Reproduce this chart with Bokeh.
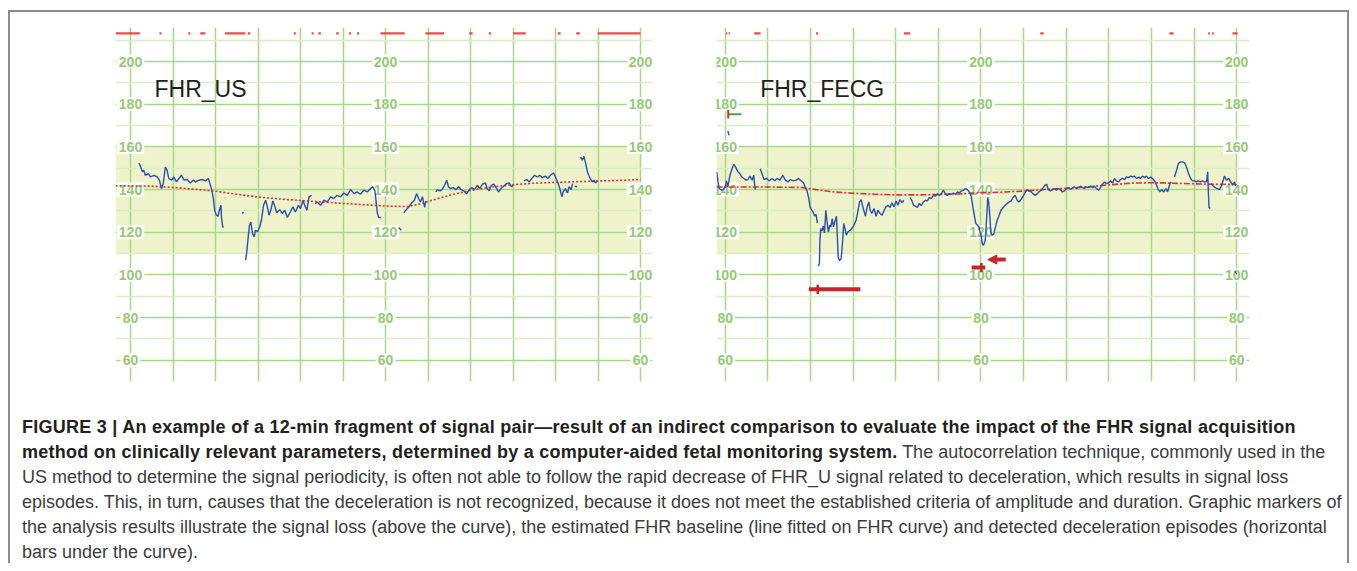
import math
from bokeh.plotting import figure
from bokeh.models import FixedTicker, Div, Arrow, NormalHead, Range1d
from bokeh.layouts import row, column
from bokeh.embed import file_html
from bokeh.resources import INLINE
from bokeh.core.properties import value

nan = float("nan")

# ---------------- data ----------------
fhr_ticks = [200, 180, 160, 140, 120, 100, 80, 60]
fhr_minor = [210, 190, 170, 150, 130, 110, 90, 70, 50]
minute_ticks = list(range(0, 13))
label_minutes = [0, 6, 12]
normal_low, normal_high = 110, 160

# FHR_US (left panel): time [min], FHR [bpm]; nan = signal gap
us_time = [0.20, 0.24, 0.28, 0.31, 0.35, 0.42, 0.47, 0.55, 0.63, 0.68, 0.73, 0.77, 0.82, 0.86, 0.90, 0.97, 1.02, 1.08, 1.14, 1.20,
           1.26, 1.33, 1.41, 1.47, 1.53, 1.61, 1.69, 1.77, 1.83, 1.87, 1.91, 1.95, 1.98, 2.02, 2.06, 2.09, 2.13, 2.14, 2.17, 2.19, nan,
           2.63, 2.66, nan,
           2.71, 2.74, 2.77, 2.80, 2.83, 2.87, 2.91, 2.94, 2.99, 3.04, 3.08, 3.13, 3.18, 3.22, 3.26, 3.30, 3.35, 3.40, 3.44, 3.51,
           3.57, 3.63, 3.69, 3.76, 3.82, 3.88, 3.95, 4.00, 4.06, 4.10, 4.15, 4.20, 4.26, nan,
           4.35, 4.39, 4.47, 4.55, 4.63, 4.71, 4.78, 4.86, 4.94, 5.02, 5.10, 5.18, 5.26, 5.33, 5.41, 5.49, 5.57, 5.65, 5.70, 5.75,
           5.78, 5.81, 5.84, 5.89, nan,
           6.31, 6.37, nan,
           6.43, 6.49, 6.56, 6.62, 6.68, 6.73, 6.78, 6.82, 6.87, 6.92, 6.95, nan,
           7.18, 7.22, 7.28, 7.33, 7.39, 7.44, 7.48, 7.53, 7.59, 7.66, 7.72, 7.78, 7.84, 7.91, 7.97, 8.03, 8.09, 8.16, 8.22, 8.28,
           8.35, 8.39, 8.44, 8.49, 8.55, 8.60, 8.66, 8.72, 8.78, 8.85, 8.91, 8.97, 9.00, nan,
           9.26, 9.32, 9.38, 9.44, 9.51, 9.57, 9.63, 9.69, 9.76, 9.82, 9.88, 9.95, 10.00, 10.06, 10.10, 10.15, 10.18, 10.23, 10.28, 10.32,
           10.37, 10.40, nan,
           10.45, 10.51, nan,
           10.59, 10.63, 10.67, 10.71, 10.75, 10.78, 10.82, 10.86, 10.90, 10.94, 10.98]
us_fhr = [152.5, 150.6, 148.3, 149.1, 146.7, 147.5, 145.9, 146.7, 145.9, 144.4, 140.5, 142.8, 150.6, 149.1, 145.2, 144.4, 145.9, 143.6, 145.2, 146.7,
          144.4, 144.7, 143.1, 144.4, 143.6, 144.4, 144.7, 144.1, 145.2, 142.8, 140.0, 135.8, 130.3, 128.0, 127.5, 130.3, 132.6, 127.2, 122.5, 122.2, nan,
          128.8, 129.5, nan,
          106.9, 111.6, 117.8, 123.3, 124.8, 119.4, 117.8, 120.9, 120.2, 122.5, 125.6, 132.6, 135.0, 131.9, 128.0, 130.3, 134.7, 131.9, 129.1, 130.6,
          128.8, 130.3, 126.9, 129.5, 131.9, 129.5, 132.6, 131.1, 135.0, 132.6, 130.3, 136.6, 137.3, nan,
          133.4, 134.2, 132.6, 135.0, 134.2, 136.6, 135.8, 137.3, 136.6, 138.4, 137.3, 140.0, 138.1, 138.9, 137.8, 139.7, 138.9, 140.5, 141.3, 139.4,
          134.2, 128.8, 126.9, 126.9, nan,
          122.2, 120.9, nan,
          129.1, 130.6, 132.2, 133.8, 135.0, 138.1, 135.8, 134.2, 136.6, 131.6, 134.7, nan,
          138.9, 140.0, 139.4, 140.0, 142.0, 144.4, 141.3, 140.5, 140.9, 140.0, 141.3, 140.0, 139.4, 138.1, 140.0, 140.9, 140.0, 142.0, 140.5, 142.5,
          143.1, 140.5, 139.4, 142.0, 142.5, 140.9, 138.9, 140.5, 141.6, 142.8, 143.1, 141.3, 142.0, nan,
          144.1, 144.7, 143.6, 145.2, 146.7, 145.9, 146.7, 145.6, 146.3, 145.2, 146.7, 147.8, 145.9, 143.1, 140.5, 136.6, 138.9, 140.5, 138.4, 141.3,
          140.0, 142.8, nan,
          141.6, 141.3, nan,
          155.3, 153.8, 155.6, 152.2, 148.3, 146.7, 145.2, 143.6, 144.4, 143.1, 144.1]

us_base_time = [-0.35, 0.5, 1.0, 1.5, 2.0, 2.5, 3.0, 3.5, 4.0, 4.5, 5.0, 5.5, 6.0, 6.5, 6.8, 7.2, 7.6, 8.0, 8.5, 9.0, 9.5, 10.0, 10.5, 11.0, 11.5, 12.0]
us_base = [141.8, 141.6, 141.0, 140.2, 139.2, 137.8, 136.5, 135.6, 134.9, 134.2, 133.5, 132.9, 132.3, 132.0, 133.2, 135.6, 137.8, 139.6, 141.2, 142.3, 143.0, 143.4, 143.7, 144.0, 144.3, 144.7]

us_loss_start = [-0.35, 0.68, 1.36, 1.64, 2.22, 2.76, 3.84, 4.26, 4.42, 4.84, 5.14, 5.33, 5.88, 6.94, 7.97, 8.43, 9.00, 10.05, 10.49, 10.99]
us_loss_end = [0.22, 0.73, 1.41, 1.76, 2.70, 2.82, 3.89, 4.31, 4.48, 4.90, 5.19, 5.38, 6.45, 7.38, 8.05, 8.48, 9.30, 10.12, 10.57, 12.00]

# FHR_FECG (right panel)
fecg_time = [-0.20, -0.17, -0.14, -0.09, -0.04, 0.00, 0.03, 0.06, 0.11, 0.16, 0.20, 0.25, 0.30, 0.34, 0.39, 0.44, 0.49, 0.53, 0.58, 0.63,
             0.67, 0.69, 0.71, nan,
             0.82, 0.86, 0.91, 0.97, 1.03, 1.10, 1.16, 1.22, 1.28, 1.35, 1.41, 1.47, 1.53, 1.60, 1.66, 1.72, 1.78, 1.84, 1.88, 1.92,
             1.96, 1.99, 2.02, 2.06, 2.10, 2.13, 2.16, nan,
             2.18, 2.21, 2.22, 2.24, 2.27, 2.30, 2.33, 2.36, 2.39, 2.42, 2.45, 2.48, 2.51, 2.54, 2.57, 2.61, 2.63, 2.65, 2.68, 2.72,
             2.75, 2.78, 2.81, 2.84, 2.88, 2.93, 2.97, 3.02, 3.07, 3.11, 3.15, 3.19, 3.22, 3.25, 3.29, 3.33, 3.37, 3.40, 3.44, 3.49,
             3.54, 3.58, 3.63, 3.68, 3.73, 3.77, 3.82, 3.87, 3.91, 3.96, 4.01, 4.05, 4.10, 4.15, 4.19, nan,
             4.34, 4.38, 4.42, 4.46, 4.51, 4.55, 4.60, 4.65, 4.70, 4.74, 4.79, 4.84, 4.88, 4.93, 4.98, 5.02, 5.07, 5.12, 5.16, 5.21,
             5.26, 5.31, 5.35, 5.40, 5.45, 5.49, 5.54, 5.59, 5.63, 5.68, 5.73, 5.77, 5.81, 5.85, 5.88, 5.92, 5.96, 5.97, 6.00, 6.03,
             6.06, 6.10, 6.13, 6.16, 6.18, 6.21, 6.23, 6.26, 6.30, 6.34, 6.38, 6.42, 6.47, 6.52, 6.57, 6.61, 6.66, 6.71, 6.75, 6.80,
             6.85, 6.89, 6.94, 6.99, 7.03, 7.08, 7.13, 7.18, 7.22, 7.27, 7.32, 7.36, 7.41, 7.46, 7.50, 7.54, 7.58, 7.63, 7.68, 7.72,
             7.77, 7.82, 7.86, 7.91, 7.96, 8.01, 8.05, 8.10, 8.15, 8.19, 8.24, 8.29, 8.33, 8.38, 8.43, 8.47, 8.52, 8.57, 8.62, 8.66,
             8.71, 8.76, 8.80, 8.85, 8.90, 8.94, 8.99, 9.04, 9.09, 9.13, 9.18, 9.23, 9.27, 9.32, 9.37, 9.41, 9.46, 9.51, 9.55, 9.60,
             9.65, 9.70, 9.74, 9.79, 9.84, 9.88, 9.93, 9.98, 10.02, 10.07, 10.12, 10.16, 10.20, 10.24, 10.29, 10.34, 10.38, 10.42, 10.46, nan,
             10.54, 10.59, 10.63, 10.68, 10.73, 10.78, 10.82, 10.87, 10.92, 10.96, 11.01, 11.06, 11.10, 11.15, 11.20, 11.24, 11.29, 11.32, 11.33, 11.35,
             11.38, nan,
             11.40, 11.45, 11.50, 11.54, 11.59, 11.64, 11.68, 11.71, 11.76, 11.81, 11.86, 11.90, 11.95, 11.97, nan,
             11.96, 12.00, nan,
             0.06, 0.09]
fecg_fhr = [148.3, 143.6, 140.5, 139.7, 140.0, 141.6, 144.1, 141.3, 146.7, 149.8, 151.9, 150.3, 148.3, 147.5, 145.9, 145.2, 144.4, 144.7, 146.3, 144.4,
            146.7, 142.0, 140.0, nan,
            149.8, 147.5, 144.7, 145.2, 144.1, 145.2, 144.1, 145.2, 144.4, 146.7, 144.4, 143.6, 144.7, 144.1, 144.4, 145.2, 144.1, 143.1, 140.9, 139.4,
            135.8, 131.9, 130.6, 129.5, 127.5, 128.4, 124.4, nan,
            104.1, 105.3, 115.5, 121.7, 120.6, 122.8, 119.7, 130.3, 124.8, 120.2, 123.3, 122.5, 126.4, 122.5, 124.8, 127.5, 117.8, 108.4, 106.6, 107.7,
            114.7, 124.1, 121.7, 118.6, 120.2, 120.9, 121.7, 123.3, 125.6, 129.5, 134.2, 135.3, 132.6, 130.3, 127.5, 131.9, 134.2, 130.3, 128.8, 131.1,
            127.5, 130.3, 128.8, 128.0, 130.3, 131.9, 132.6, 131.6, 133.8, 131.9, 134.7, 132.6, 135.3, 133.8, 135.0, nan,
            136.3, 134.7, 132.6, 132.2, 131.6, 133.4, 132.6, 134.2, 135.0, 134.7, 136.3, 135.8, 137.3, 136.9, 138.1, 137.3, 138.1, 139.7, 138.1, 137.3,
            138.1, 137.8, 138.4, 137.8, 138.9, 138.4, 139.4, 139.7, 140.5, 140.0, 138.9, 136.9, 131.9, 127.2, 124.1, 123.3, 122.2, 120.9, 118.6, 114.7,
            113.9, 116.3, 125.6, 136.3, 134.2, 127.2, 120.2, 118.6, 119.1, 122.5, 125.6, 127.5, 130.3, 131.6, 132.6, 133.4, 134.2, 134.7, 136.3, 137.3,
            135.0, 134.2, 135.3, 136.9, 138.4, 140.0, 139.4, 138.9, 138.1, 137.3, 138.1, 138.9, 139.7, 140.9, 142.0, 142.5, 140.0, 139.4, 140.0, 140.5,
            139.7, 140.5, 140.0, 138.9, 139.4, 140.5, 140.9, 140.0, 140.9, 141.3, 140.5, 140.9, 141.6, 140.9, 140.5, 141.3, 140.9, 141.6, 140.9, 141.6,
            140.5, 139.7, 140.9, 142.5, 143.6, 142.8, 143.1, 144.1, 143.1, 145.2, 144.1, 143.6, 144.7, 145.2, 144.7, 145.9, 145.6, 146.3, 145.9, 146.3,
            145.2, 145.9, 145.2, 146.3, 145.6, 146.3, 145.2, 145.9, 145.2, 144.1, 142.0, 140.0, 138.9, 140.0, 138.9, 140.5, 138.9, 142.0, 143.6, nan,
            145.9, 149.1, 152.2, 153.0, 153.0, 152.5, 150.6, 147.5, 145.2, 144.1, 144.1, 143.6, 144.1, 143.6, 144.1, 143.6, 143.6, 148.3, 141.3, 131.6,
            131.1, nan,
            142.8, 141.6, 140.9, 140.5, 140.0, 141.6, 144.1, 146.3, 144.4, 145.2, 143.6, 142.0, 143.6, 141.6, nan,
            101.6, 100.3, nan,
            167.5, 165.5]

fecg_base_time = [-0.20, 1.0, 1.8, 2.2, 2.6, 3.0, 3.5, 4.0, 4.5, 5.0, 5.5, 6.0, 6.5, 7.0, 7.5, 8.0, 8.5, 9.0, 9.5, 10.0, 10.5, 11.0, 11.5, 12.0]
fecg_base = [141.2, 141.2, 141.0, 139.8, 138.8, 138.3, 137.8, 137.5, 137.5, 137.7, 138.0, 138.5, 138.8, 139.3, 140.0, 140.6, 141.3, 142.2, 143.0, 143.2, 143.0, 142.7, 142.5, 142.5]

fecg_loss_start = [0.02, 0.08, 0.68, 2.13, 4.19, 7.39, 10.42, 11.33, 11.42, 11.90]
fecg_loss_end = [0.05, 0.11, 0.83, 2.18, 4.34, 7.47, 10.52, 11.37, 11.46, 12.02]

decel_start = [1.96, 5.78]
decel_end = [3.17, 6.10]
decel_level = [93.2, 103.4]
decel_tick = [2.17, 6.01]
decel_arrow_from, decel_arrow_to, decel_arrow_level = 6.58, 6.16, 107.2

accel_start, accel_end, accel_level = 0.07, 0.38, 175.3

assert len(us_time) == len(us_fhr)
assert len(fecg_time) == len(fecg_fhr)

# ---------------- style ----------------
GRID = "#a6d78a"
GRID_MINOR = "#dcedc6"
BAND = "#eef3cb"
LABEL = "#93cb74"
CURVE = "#2f4fae"
BASE = "#ee2b2b"
LOSS = "#f04a4a"
DECEL = "#c4262b"
Y0, Y1 = 50, 216
GRID_TOP = 210
LOSS_Y = 213.2


def panel(width, mbl, mbr, x0, x1, title, title_x):
    p = figure(width=width, height=405, x_range=Range1d(x0, x1), y_range=Range1d(Y0, Y1),
               output_backend="svg", toolbar_location=None,
               x_axis_location=None, y_axis_location=None,
               min_border_left=mbl, min_border_right=mbr, min_border_top=17, min_border_bottom=34,
               border_fill_color=None, background_fill_color="white", outline_line_color=None)
    p.xgrid.ticker = FixedTicker(ticks=minute_ticks)
    p.xgrid.grid_line_color = GRID
    p.xgrid.grid_line_width = 1.5
    p.ygrid.ticker = FixedTicker(ticks=fhr_ticks, minor_ticks=fhr_minor)
    p.ygrid.grid_line_color = GRID
    p.ygrid.grid_line_width = 1.5
    p.ygrid.minor_grid_line_color = GRID_MINOR
    p.ygrid.minor_grid_line_width = 1.5
    # normal band (under grid)
    p.quad(left=x0, right=minute_ticks[-1], bottom=normal_low, top=normal_high,
           fill_color=BAND, line_color=None, level="image")
    # trim grid outside the chart paper
    p.quad(left=minute_ticks[-1] + 0.025, right=x1, bottom=Y0, top=Y1,
           fill_color="white", line_color=None, level="underlay")
    p.quad(left=x0, right=x1, bottom=GRID_TOP + 0.35, top=Y1,
           fill_color="white", line_color=None, level="underlay")
    # scale labels
    lx = [m for m in label_minutes for _ in fhr_ticks]
    ly = [v for _ in label_minutes for v in fhr_ticks]
    p.text(x=lx, y=ly, text=[str(v) for v in ly], text_align="center", text_baseline="middle",
           text_font=value("Liberation Sans"), text_font_size="14px", text_font_style="bold",
           text_color=LABEL, background_fill_color="white", padding=2)
    p.text(x=[title_x], y=[187.3], text=[title], text_align="left", text_baseline="middle",
           text_font=value("Liberation Sans"), text_font_size="23px", text_color="#1e1e1e")
    return p


left = panel(664, 107, 20, -0.353, 12.282, "FHR_US", 0.565)
right = panel(677, 44, 100, -0.205, 12.30, "FHR_FECG", 0.82)

left.line(us_base_time, us_base, line_color=BASE, line_width=1.6, line_dash="2 2")
left.line(us_time, us_fhr, line_color=CURVE, line_width=1.4)
left.segment(x0=us_loss_start, y0=[LOSS_Y] * len(us_loss_start), x1=us_loss_end,
             y1=[LOSS_Y] * len(us_loss_end), line_color=LOSS, line_width=2.2)

right.line(fecg_base_time, fecg_base, line_color=BASE, line_width=1.6, line_dash="6 2 2 2")
right.line(fecg_time, fecg_fhr, line_color=CURVE, line_width=1.4)
right.segment(x0=fecg_loss_start, y0=[LOSS_Y] * len(fecg_loss_start), x1=fecg_loss_end,
              y1=[LOSS_Y] * len(fecg_loss_end), line_color=LOSS, line_width=2.2)
right.segment(x0=decel_start, y0=decel_level, x1=decel_end, y1=decel_level,
              line_color=DECEL, line_width=4)
right.segment(x0=decel_tick, y0=[v - 2.2 for v in decel_level], x1=decel_tick,
              y1=[v + 2.2 for v in decel_level], line_color=DECEL, line_width=2.5)
right.add_layout(Arrow(end=NormalHead(size=9, fill_color=DECEL, line_color=DECEL),
                       x_start=decel_arrow_from, y_start=decel_arrow_level,
                       x_end=decel_arrow_to, y_end=decel_arrow_level,
                       line_color=DECEL, line_width=4))
right.segment(x0=[accel_start], y0=[accel_level], x1=[accel_end], y1=[accel_level],
              line_color="#3ea84a", line_width=2)
right.segment(x0=[accel_start], y0=[accel_level - 2], x1=[accel_start], y1=[accel_level + 2],
              line_color="#e02b2b", line_width=2)

caption_html = (
    '<div style="padding-left:14px; font-family:\'Liberation Sans\',Arial,sans-serif; '
    'font-size:18px; line-height:25px; color:#3c3c3c; white-space:nowrap; letter-spacing:0px;">'
    '<b style="color:#231f20; letter-spacing:0.26px;">FIGURE 3 | An example of a 12-min fragment of signal pair\u2014result of an indirect comparison to evaluate '
    'the impact of the FHR signal acquisition<br>method on clinically relevant parameters, determined by a computer-aided fetal '
    'monitoring system.</b> The autocorrelation technique, commonly used in the<br>'
    'US method to determine the signal periodicity, is often not able to follow the rapid decrease of FHR_U signal related to '
    'deceleration, which results in signal loss<br>'
    'episodes. This, in turn, causes that the deceleration is not recognized, because it does not meet the established criteria '
    'of amplitude and duration. Graphic markers of<br>'
    'the analysis results illustrate the signal loss (above the curve), the estimated FHR baseline (line fitted on FHR curve) and '
    'detected deceleration episodes (horizontal<br>'
    'bars under the curve).</div>'
)
caption = Div(text=caption_html, width=1341, height=148, margin=(0, 0, 0, 0), styles={"overflow": "hidden"})

layout = column(row(left, right, margin=(0, 0, 0, 0)), caption, margin=(10, 0, 0, 8),
                styles={"box-shadow": "inset 2px 0 0 #8c8c8c, inset -2px 0 0 #8c8c8c, inset 0 2px 0 #8c8c8c"})

open("out.html", "w").write(file_html(layout, INLINE))
